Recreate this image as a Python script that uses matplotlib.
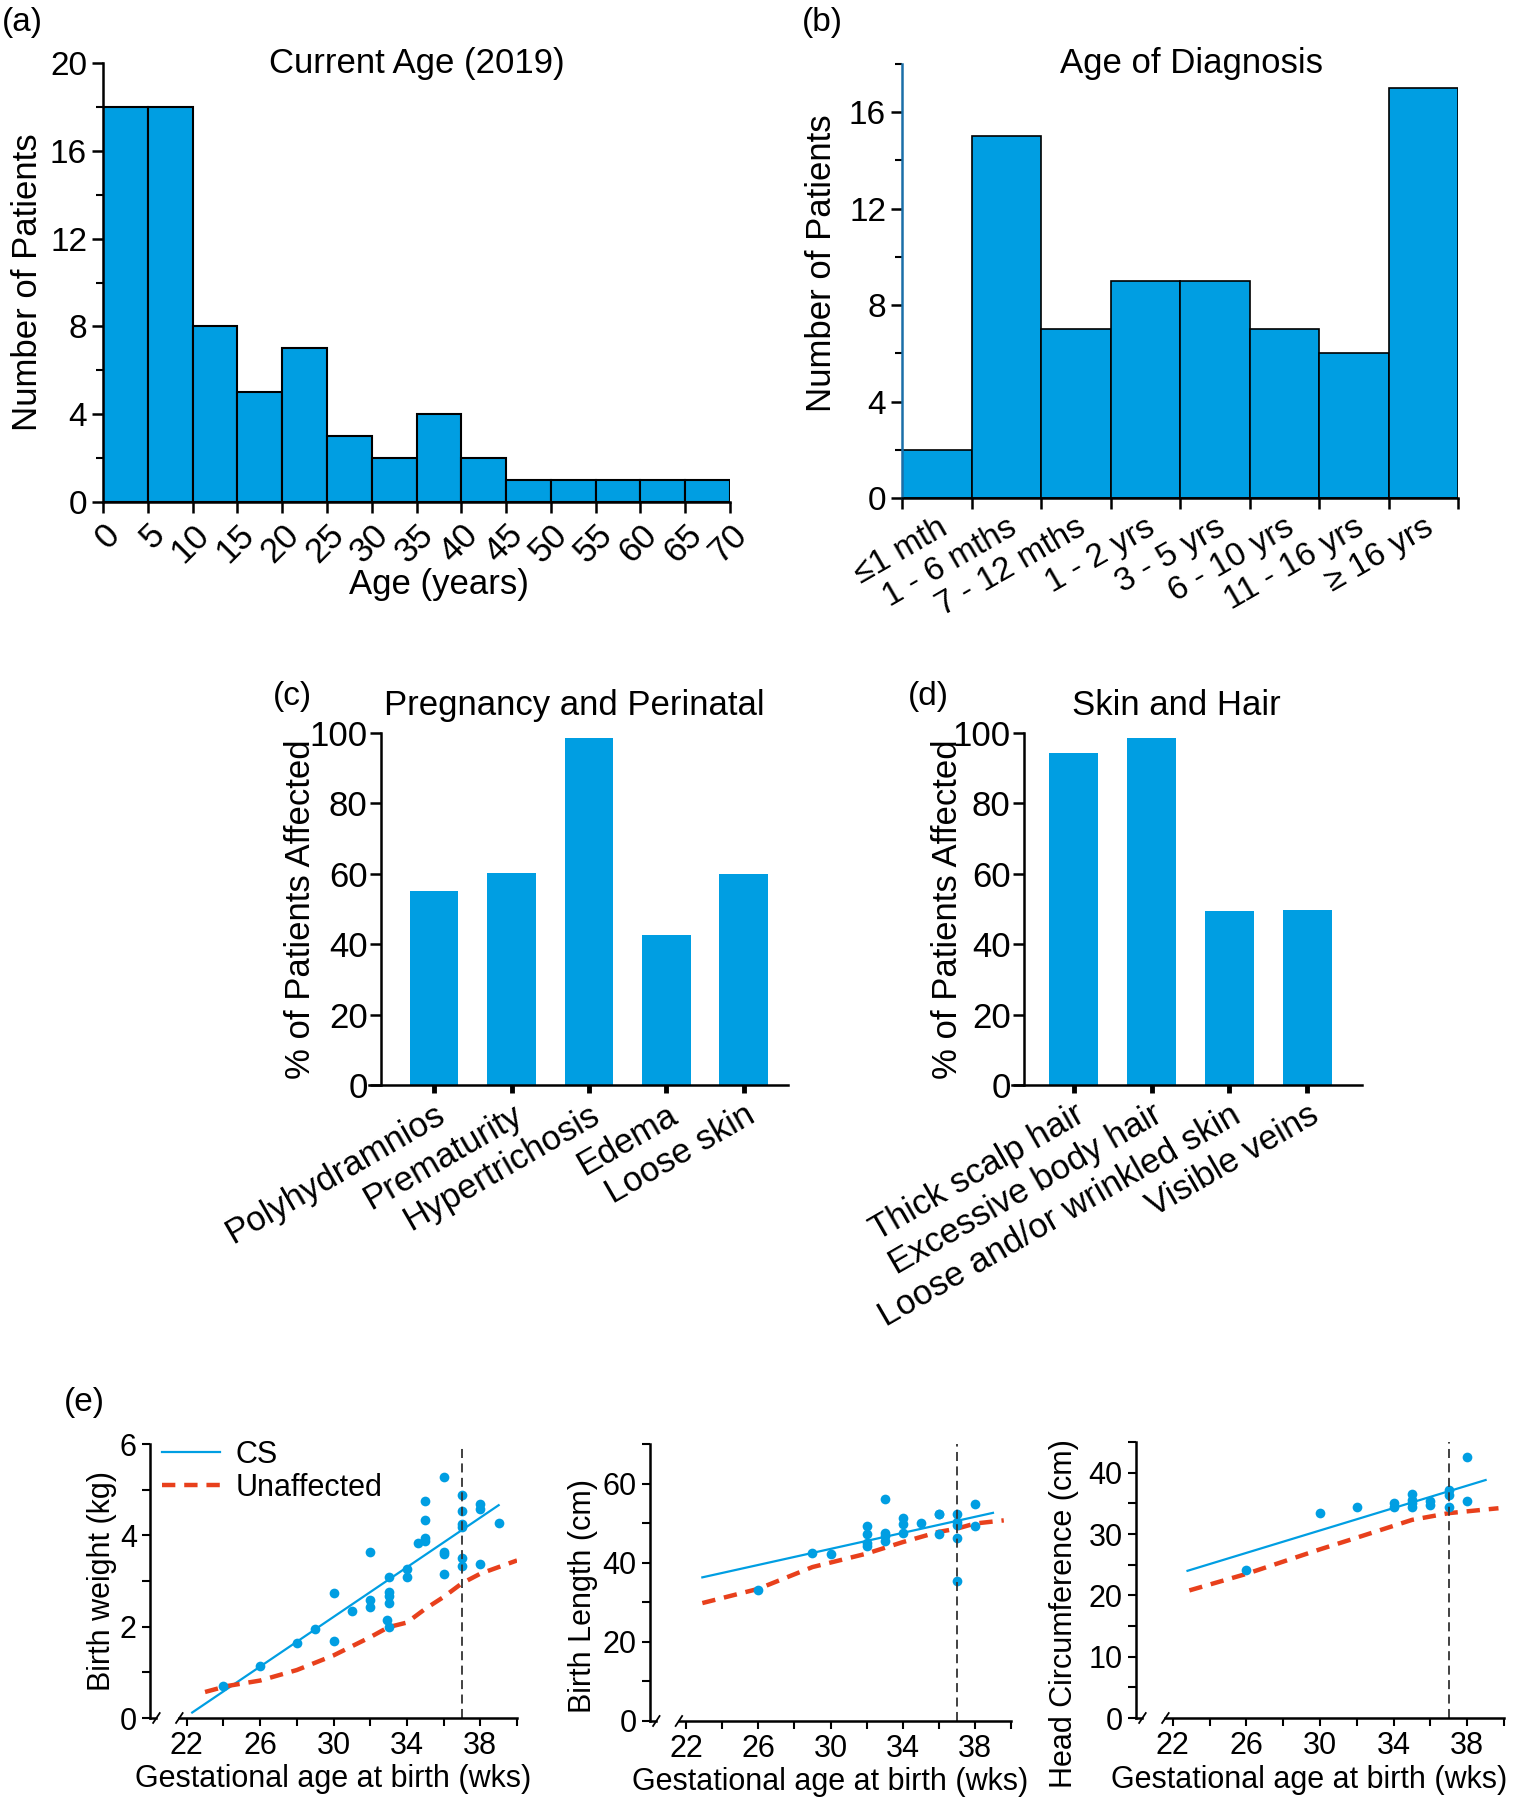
import matplotlib
matplotlib.use('Agg')
import matplotlib.pyplot as plt
from matplotlib.ticker import MultipleLocator, FixedLocator
import numpy as np

plt.rcParams['font.family'] = ['Liberation Sans', 'DejaVu Sans']

azul = '#009ee2'
rojo = '#e8401c'

# (a) edad actual
edad_bordes = [0, 5, 10, 15, 20, 25, 30, 35, 40, 45, 50, 55, 60, 65, 70]
edad_cuentas = [18, 18, 8, 5, 7, 3, 2, 4, 2, 1, 1, 1, 1, 1]

# (b) edad de diagnostico
diag_cats = ['≤1 mth', '1 - 6 mths', '7 - 12 mths', '1 - 2 yrs', '3 - 5 yrs',
             '6 - 10 yrs', '11 - 16 yrs', '≥ 16 yrs']
diag_cuentas = [2, 15, 7, 9, 9, 7, 6, 17]

# (c) embarazo
emb_cats = ['Polyhydramnios', 'Prematurity', 'Hypertrichosis', 'Edema', 'Loose skin']
emb_pct = [55.1, 60.2, 98.5, 42.7, 60.0]

# (d) piel y pelo
piel_cats = ['Thick scalp hair', 'Excessive body hair', 'Loose and/or wrinkled skin',
             'Visible veins']
piel_pct = [94.3, 98.6, 49.3, 49.7]

# (e) peso al nacer
peso_sem = [24, 26, 28, 29, 30, 30, 31, 32, 32, 32, 33, 33, 33, 33, 32.9, 33, 34, 34,
            34.6, 35, 35, 35, 35, 36, 36, 36, 36, 37, 37, 37, 37, 37, 37, 38, 38, 38, 39]
peso_kg = [0.69, 1.13, 1.64, 1.95, 2.74, 1.68, 2.35, 3.64, 2.58, 2.44, 3.09, 2.77, 2.68,
           2.52, 2.15, 2.0, 3.26, 3.09, 3.84, 3.95, 3.88, 4.33, 4.75, 5.27, 3.64, 3.59,
           3.16, 4.89, 4.53, 4.25, 4.18, 3.51, 3.32, 4.68, 4.58, 3.37, 4.26]
peso_cs_x = [22.3, 39.0]
peso_cs_y = [0.12, 4.66]
peso_un_x = [23.0, 24.2, 26, 28, 30, 32, 33, 34, 35, 36, 37, 38, 40]
peso_un_y = [0.57, 0.70, 0.82, 1.05, 1.37, 1.77, 1.99, 2.09, 2.39, 2.65, 2.95, 3.16, 3.45]

# (e) talla al nacer
talla_sem = [26, 29, 30, 32, 32, 32, 32, 33, 33, 33, 33, 34, 34, 34, 35, 36, 36, 36,
             37, 37, 37, 37, 37, 38, 38]
talla_cm = [33.1, 42.5, 42.3, 49.2, 47.2, 45.0, 44.2, 56.0, 47.6, 46.7, 45.6, 51.3, 49.7,
            47.6, 50.1, 52.4, 52.2, 47.2, 52.4, 50.3, 49.5, 46.2, 35.5, 54.9, 49.2]
talla_cs_x = [22.9, 39.0]
talla_cs_y = [36.3, 52.6]
talla_un_x = [22.9, 26, 29, 32, 34, 36, 37, 38, 39.6]
talla_un_y = [29.8, 33.4, 38.9, 42.3, 45.2, 47.8, 48.6, 49.9, 50.7]

# (e) circunferencia cefalica
cabeza_sem = [26, 30, 32, 34, 34, 35, 35, 35, 35, 36, 36, 37, 37, 37, 38, 38]
cabeza_cm = [24.1, 33.5, 34.4, 35.0, 34.4, 36.5, 35.6, 35.1, 34.4, 35.4, 34.7, 37.1,
             36.4, 34.4, 42.6, 35.4]
cabeza_cs_x = [22.8, 39.0]
cabeza_cs_y = [24.0, 38.8]
cabeza_un_x = [22.9, 26, 30, 32, 35, 37, 39.7]
cabeza_un_y = [20.8, 23.5, 27.5, 29.4, 32.3, 33.4, 34.2]

W, H = 1514, 1800
fig = plt.figure(figsize=(W / 100, H / 100), dpi=100)


def caja(l, r, t, b):
    return [l / W, 1 - b / H, (r - l) / W, (b - t) / H]


def estilo(ax, fs=24):
    for s in ['top', 'right']:
        ax.spines[s].set_visible(False)
    for s in ['left', 'bottom']:
        ax.spines[s].set_linewidth(1.8)
    ax.tick_params(which='major', direction='out', length=8, width=1.8, labelsize=fs)
    ax.tick_params(which='minor', direction='out', length=5, width=1.5)


# ---- (a)
ax = fig.add_axes(caja(103, 730, 63, 502))
ax.bar(edad_bordes[:-1], edad_cuentas, width=5, align='edge', color=azul,
       edgecolor='black', linewidth=1.5)
ax.set_xlim(0, 70)
ax.set_ylim(0, 20)
ax.set_xticks(edad_bordes)
ax.set_xticklabels([str(v) for v in edad_bordes], rotation=45, ha='right',
                   rotation_mode='anchor')
ax.yaxis.set_major_locator(MultipleLocator(4))
ax.yaxis.set_minor_locator(MultipleLocator(2))
estilo(ax)
ax.tick_params(axis='x', labelsize=25)
ax.set_ylabel('Number of Patients', fontsize=25, labelpad=4)
ax.set_xlabel('Age (years)', fontsize=25, labelpad=2)
ax.xaxis.set_label_coords(0.535, -0.15)
ax.text(0.5, 1.0, 'Current Age (2019)', transform=ax.transAxes, ha='center',
        va='center', fontsize=25)

# ---- (b)
ax = fig.add_axes(caja(902, 1458, 64, 498))
pos = np.arange(len(diag_cats))
ax.bar(pos, diag_cuentas, width=1, align='edge', color=azul, edgecolor='black',
       linewidth=1.2)
ax.set_xlim(0, len(diag_cats))
ax.set_ylim(0, 18)
ax.set_xticks(np.arange(len(diag_cats) + 1))
ax.set_xticklabels([])
ax.xaxis.set_minor_locator(FixedLocator(pos + 0.5))
ax.set_xticklabels(diag_cats, minor=True, rotation=30, ha='right',
                   rotation_mode='anchor')
ax.yaxis.set_major_locator(MultipleLocator(4))
ax.yaxis.set_minor_locator(MultipleLocator(2))
estilo(ax)
ax.tick_params(axis='x', which='minor', length=0, labelsize=24, pad=10)
ax.spines['left'].set_color('#1a6fa8')
ax.set_ylabel('Number of Patients', fontsize=25, labelpad=4)
ax.yaxis.set_label_coords(-0.115, 0.54)
ax.text(0.52, 1.0, 'Age of Diagnosis', transform=ax.transAxes, ha='center',
        va='center', fontsize=25)

# ---- (c)
ax = fig.add_axes(caja(369, 788, 733, 1085))
pos = np.arange(len(emb_cats))
ax.bar(pos, emb_pct, width=0.63, color=azul)
ax.set_xlim(-0.84, 4.57)
ax.spines['left'].set_position(('data', -0.68))
ax.set_ylim(0, 100)
ax.set_xticks(pos)
ax.set_xticklabels(emb_cats, rotation=30, ha='right', rotation_mode='anchor')
ax.yaxis.set_major_locator(MultipleLocator(20))
estilo(ax, fs=25)
ax.tick_params(axis='y', pad=2)
ax.tick_params(axis='x', length=6, width=3.5, labelsize=25)
ax.set_ylabel('% of Patients Affected', fontsize=25)
ax.yaxis.set_label_coords(-0.124, 0.5)
ax.text(0.49, 1.077, 'Pregnancy and Perinatal', transform=ax.transAxes,
        ha='center', va='center', fontsize=25)

# ---- (d)
ax = fig.add_axes(caja(1012, 1362, 733, 1085))
pos = np.arange(len(piel_cats))
ax.bar(pos, piel_pct, width=0.62, color=azul)
ax.set_xlim(-0.79, 3.70)
ax.spines['left'].set_position(('data', -0.63))
ax.set_ylim(0, 100)
ax.set_xticks(pos)
ax.set_xticklabels(piel_cats, rotation=30, ha='right', rotation_mode='anchor')
ax.yaxis.set_major_locator(MultipleLocator(20))
estilo(ax, fs=25)
ax.tick_params(axis='y', pad=2)
ax.tick_params(axis='x', length=6, width=3.5, labelsize=25)
ax.set_ylabel('% of Patients Affected', fontsize=25)
ax.yaxis.set_label_coords(-0.137, 0.5)
ax.text(0.47, 1.077, 'Skin and Hair', transform=ax.transAxes,
        ha='center', va='center', fontsize=25)


# ---- (e)
def panel_e(caja_px, xs, ys, cs_x, cs_y, un_x, un_y, ymax, mayor, menor, ylab):
    ax = fig.add_axes(caja(*caja_px))
    ax.plot(cs_x, cs_y, color=azul, lw=1.6, label='CS')
    ax.plot(un_x, un_y, color=rojo, lw=3.2, ls=(0, (3, 2)), label='Unaffected')
    ax.plot(xs, ys, 'o', color=azul, ms=7, mec='none')
    ax.axvline(37, color='#333333', lw=1.3, ls=(0, (5, 3)))
    ax.set_xlim(20, 40)
    ax.set_ylim(0, ymax)
    ax.xaxis.set_major_locator(FixedLocator([22, 26, 30, 34, 38]))
    ax.xaxis.set_minor_locator(FixedLocator([24, 28, 32, 36, 40]))
    ax.yaxis.set_major_locator(MultipleLocator(mayor))
    ax.yaxis.set_minor_locator(MultipleLocator(menor))
    estilo(ax, fs=22)
    ax.tick_params(which='major', length=6, width=1.5)
    ax.tick_params(which='minor', length=6, width=1.5)
    ax.spines['bottom'].set_bounds(21.6, 40)
    tr = ax.get_xaxis_transform()
    ax.plot([20, 20.35], [0, 0], color='k', lw=1.8, transform=tr, clip_on=False)
    for xb in (20.35, 21.6):
        ax.plot([xb - 0.18, xb + 0.18], [-0.018, 0.018], color='k', lw=1.3,
                transform=tr, clip_on=False)
    ax.set_xlabel('Gestational age at birth (wks)', fontsize=22, labelpad=2)
    ax.set_ylabel(ylab, fontsize=22, labelpad=2)
    return ax


ax = panel_e((150, 517, 1444, 1718), peso_sem, peso_kg, peso_cs_x, peso_cs_y,
             peso_un_x, peso_un_y, 6, 2, 1, 'Birth weight (kg)')
ax.legend(loc='upper left', bbox_to_anchor=(0.0, 1.06), frameon=False, fontsize=22,
          handlelength=1.9, handletextpad=0.5, borderaxespad=0, labelspacing=0.1)
ax = panel_e((650, 1011, 1444, 1721), talla_sem, talla_cm, talla_cs_x, talla_cs_y,
             talla_un_x, talla_un_y, 70, 20, 10, 'Birth Length (cm)')
ax.yaxis.set_label_coords(-0.145, 0.45)
ax = panel_e((1136, 1504, 1442, 1718), cabeza_sem, cabeza_cm, cabeza_cs_x, cabeza_cs_y,
             cabeza_un_x, cabeza_un_y, 45, 10, 5, 'Head Circumference (cm)')
ax.yaxis.set_label_coords(-0.155, 0.38)
ax.xaxis.set_label_coords(0.47, -0.17)

# etiquetas de panel
for etq, x, y in [('(a)', 22, 22), ('(b)', 822, 22), ('(c)', 292, 697),
                  ('(d)', 928, 697), ('(e)', 84, 1402)]:
    fig.text(x / W, 1 - y / H, etq, fontsize=24, ha='center', va='center')

fig.savefig('out.png', dpi=100)
